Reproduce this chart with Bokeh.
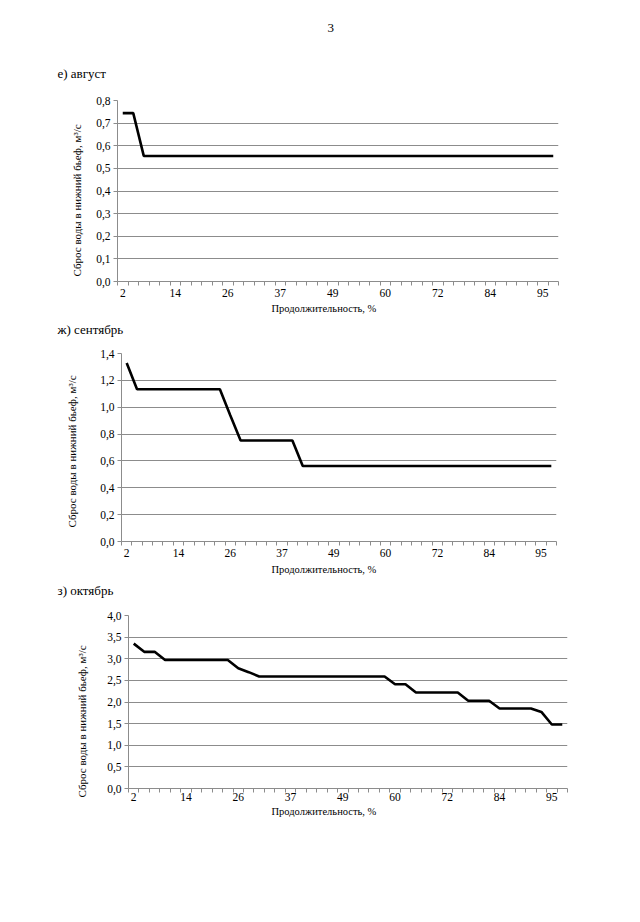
from bokeh.plotting import figure
from bokeh.models import Range1d, FixedTicker, CustomJSTickFormatter, Title
from bokeh.embed import file_html
from bokeh.resources import INLINE

# ---- data ----
categories = list(range(1, 43))            # 42 duration categories
x_label_pos = [1, 6, 11, 16, 21, 26, 31, 36, 41]
x_labels = ["2", "14", "26", "37", "49", "60", "72", "84", "95"]
x_boundaries = [i + 0.5 for i in range(0, 43)]

aug_values = [0.744, 0.744, 0.555, 0.555, 0.555, 0.555, 0.555, 0.555, 0.555, 0.555,
              0.555, 0.555, 0.555, 0.555, 0.555, 0.555, 0.555, 0.555, 0.555, 0.555,
              0.555, 0.555, 0.555, 0.555, 0.555, 0.555, 0.555, 0.555, 0.555, 0.555,
              0.555, 0.555, 0.555, 0.555, 0.555, 0.555, 0.555, 0.555, 0.555, 0.555,
              0.555, 0.555]
sep_values = [1.33, 1.134, 1.134, 1.134, 1.134, 1.134, 1.134, 1.134, 1.134, 1.134,
              0.94, 0.752, 0.752, 0.752, 0.752, 0.752, 0.752, 0.562, 0.562, 0.562,
              0.562, 0.562, 0.562, 0.562, 0.562, 0.562, 0.562, 0.562, 0.562, 0.562,
              0.562, 0.562, 0.562, 0.562, 0.562, 0.562, 0.562, 0.562, 0.562, 0.562,
              0.562, 0.562]
oct_values = [3.35, 3.16, 3.16, 2.97, 2.97, 2.97, 2.97, 2.97, 2.97, 2.97,
              2.78, 2.69, 2.59, 2.59, 2.59, 2.59, 2.59, 2.59, 2.59, 2.59,
              2.59, 2.59, 2.59, 2.59, 2.59, 2.41, 2.41, 2.22, 2.22, 2.22,
              2.22, 2.22, 2.03, 2.03, 2.03, 1.85, 1.85, 1.85, 1.85, 1.77,
              1.48, 1.48]

aug_yticks = [0.0, 0.1, 0.2, 0.3, 0.4, 0.5, 0.6, 0.7, 0.8]
sep_yticks = [0.0, 0.2, 0.4, 0.6, 0.8, 1.0, 1.2, 1.4]
oct_yticks = [0.0, 0.5, 1.0, 1.5, 2.0, 2.5, 3.0, 3.5, 4.0]

titles = ["е) август", "ж) сентябрь", "з) октябрь"]
page_number = "3"
y_title = "Сброс воды в нижний бьеф, м³/с"
x_title = "Продолжительность, %"

FONT = "Liberation Serif"
GRID = "#8c8c8c"


def txt(**kw):
    base = dict(text_font=FONT, text_font_style="normal", text_color="black")
    base.update(kw)
    return base


def make_chart(values, yticks, title, height, left, right, top, bottom,
               title_offset, title_standoff, spacer, xt_offset, xt_standoff,
               xl_standoff, yt_standoff, yt_offset):
    p = figure(width=632, height=height, output_backend="svg", toolbar_location=None,
               x_range=Range1d(0.5, 42.5), y_range=Range1d(yticks[0], yticks[-1]),
               min_border_left=left, min_border_right=right,
               min_border_top=top, min_border_bottom=bottom, title=None)
    p.outline_line_color = None
    p.background_fill_color = "white"
    p.border_fill_color = "white"

    if spacer:
        p.add_layout(Title(text=" ", standoff=spacer, **txt(text_font_size="1px")), "above")
    p.add_layout(Title(text=title, align="left", offset=title_offset, standoff=title_standoff,
                       **txt(text_font_size="13px")), "above")

    p.line(categories, values, line_color="black", line_width=2.6)

    xa = p.xaxis[0]
    xa.ticker = FixedTicker(ticks=x_label_pos, minor_ticks=x_boundaries)
    xa.major_label_overrides = dict(zip(x_label_pos, x_labels))
    xa.major_tick_line_color = None
    xa.major_tick_out = 4
    xa.major_tick_in = 0
    xa.minor_tick_out = 4
    xa.minor_tick_in = 0
    xa.minor_tick_line_color = GRID
    xa.axis_line_color = GRID
    xa.major_label_standoff = xl_standoff
    xa.major_label_text_font = FONT
    xa.major_label_text_font_size = "11.5px"
    xa.major_label_text_color = "black"

    ya = p.yaxis[0]
    ya.ticker = FixedTicker(ticks=yticks)
    ya.formatter = CustomJSTickFormatter(code="return tick.toFixed(1).replace('.', ',');")
    ya.major_tick_out = 4
    ya.major_tick_in = 0
    ya.minor_tick_out = 0
    ya.minor_tick_in = 0
    ya.major_tick_line_color = GRID
    ya.axis_line_color = GRID
    ya.major_label_standoff = 3
    ya.major_label_text_font = FONT
    ya.major_label_text_font_size = "11.5px"
    ya.major_label_text_color = "black"

    p.xgrid.visible = False
    p.ygrid.ticker = FixedTicker(ticks=yticks)
    p.ygrid.grid_line_color = GRID
    p.ygrid.grid_line_width = 1

    p.add_layout(Title(text=x_title, align="left", offset=xt_offset, standoff=xt_standoff,
                       **txt(text_font_size="10.5px")), "below")
    p.add_layout(Title(text=y_title, align="left", offset=yt_offset, standoff=yt_standoff,
                       **txt(text_font_size="11px")), "left")
    return p


p1 = make_chart(aug_values, aug_yticks, titles[0], 318, 117, 74, 100, 37,
                -60, 40, 0, 154, 3, 3, 21, 5)
p1.add_layout(Title(text=page_number, align="left", offset=210, standoff=23,
                    **txt(text_font_size="13px")), "above")
p2 = make_chart(sep_values, sep_yticks, titles[1], 260, 121, 76, 34, 37,
                -64, 2, 13, 150, 4, 3, 40, 14)
p3 = make_chart(oct_values, oct_yticks, titles[2], 245, 128, 65, 37, 35,
                -71, 2, 14, 143, 0, 0, 34, -9)

open("out.html", "w").write(file_html([p1, p2, p3], INLINE))
